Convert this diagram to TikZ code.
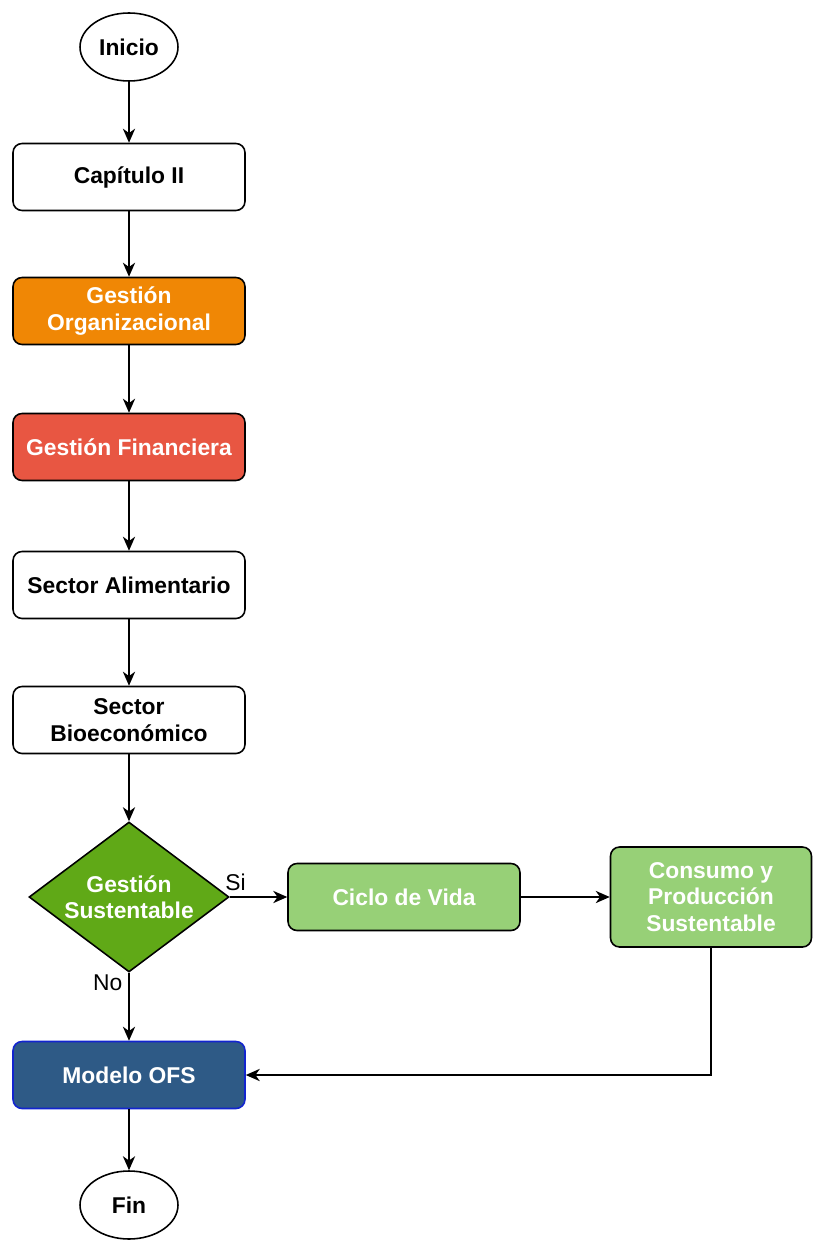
\documentclass[tikz,border=0pt]{standalone}
\usepackage{fontspec}
\setmainfont{Liberation Sans}
\usetikzlibrary{shapes.geometric,arrows.meta}
\definecolor{naranja}{HTML}{F08705}
\definecolor{rojo}{HTML}{E85642}
\definecolor{verdeosc}{HTML}{60A917}
\definecolor{verdeclaro}{HTML}{97D077}
\definecolor{azul}{HTML}{2E5A86}
\begin{document}
\begin{tikzpicture}[x=0.02cm,y=-0.02cm,
        font=\fontsize{13}{15}\selectfont\bfseries,
        caja/.style={draw,line width=0.9pt,rounded corners=0.18cm,minimum width=4.64cm,minimum height=1.34cm,align=center,inner sep=1pt},
        terminal/.style={draw,line width=0.9pt,ellipse,minimum width=1.96cm,minimum height=1.36cm,inner sep=0pt},
        flecha/.style={draw,line width=0.8pt,-{Stealth[length=8pt,width=7pt,inset=2.5pt]}},
        etiqueta/.style={font=\fontsize{13}{15}\selectfont}]
    \useasboundingbox (0,0) rectangle (813,1240);
    \node[terminal] (inicio) at (129,47) {Inicio};
    \node[caja] (cap) at (129,177) {Capítulo II};
    \node[caja,fill=naranja,text=white] (gorg) at (129,311) {Gestión\\Organizacional};
    \node[caja,fill=rojo,text=white] (gfin) at (129,447) {Gestión Financiera};
    \node[caja] (alim) at (129,585) {Sector Alimentario};
    \node[caja] (bio) at (129,720) {Sector\\Bioeconómico};
    \node[draw,line width=0.9pt,diamond,aspect=1.4,fill=verdeosc,text=white,minimum width=4cm,minimum height=3cm,inner sep=0pt,align=center] (gsus) at (129,897) {Gestión\\Sustentable};
    \node[caja,fill=verdeclaro,text=white] (ciclo) at (404,897) {Ciclo de Vida};
    \node[caja,fill=verdeclaro,text=white,minimum width=4.02cm,minimum height=2cm] (cons) at (711,897) {Consumo y\\Producción\\Sustentable};
    \node[caja,fill=azul,draw=blue!60!azul,text=white] (ofs) at (129,1075) {Modelo OFS};
    \node[terminal] (fin) at (129,1205) {Fin};
    % conectores
    \draw[flecha] (inicio) -- (cap);
    \draw[flecha] (cap) -- (gorg);
    \draw[flecha] (gorg) -- (gfin);
    \draw[flecha] (gfin) -- (alim);
    \draw[flecha] (alim) -- (bio);
    \draw[flecha] (bio) -- (gsus);
    \draw[flecha] (gsus.east) -- (ciclo.west) node[etiqueta,pos=0.1,anchor=south] {Si};
    \draw[flecha] (ciclo) -- (cons);
    \draw[flecha] (gsus.south) -- (ofs.north) node[etiqueta,pos=0.15,anchor=east] {No};
    \draw[flecha] (cons.south) |- (ofs.east);
    \draw[flecha] (ofs) -- (fin);
\end{tikzpicture}
\end{document}
